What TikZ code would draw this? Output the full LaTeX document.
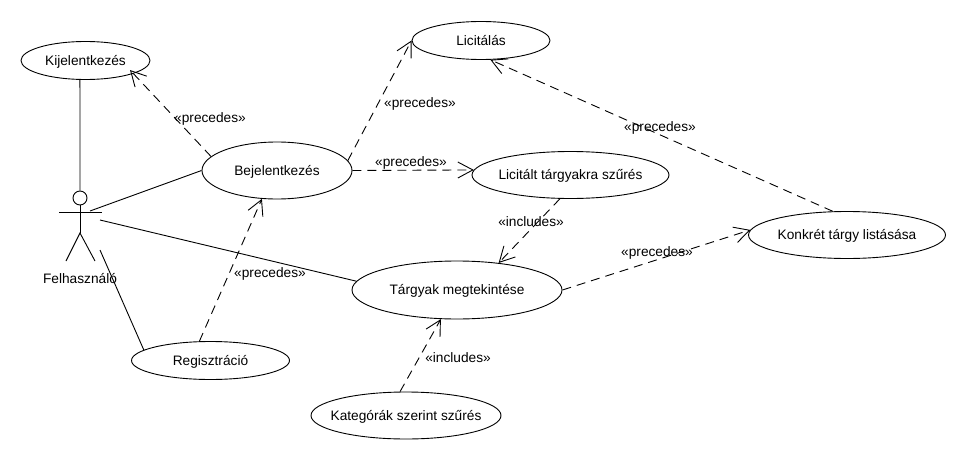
\documentclass[tikz,border=0pt]{standalone}
\usepackage{fontspec}
\setmainfont{Liberation Sans}
\usetikzlibrary{arrows.meta,shapes.geometric}
\tikzset{
	usecase/.style={draw,ellipse,inner ysep=0pt,inner xsep=-25pt,line width=0.9pt,text height=9.8pt,text depth=0pt},
	dep/.style={dashed,dash pattern=on 9pt off 6pt,line width=0.9pt,-{Straight Barb[length=15pt,width=16pt,line width=0.9pt]}},
	assoc/.style={line width=0.9pt},
	stereo/.style={inner sep=0pt,text height=9.8pt,text depth=0pt}
}
\begin{document}
\begin{tikzpicture}[x=1pt,y=-1pt]
\fontsize{13.7}{15}\selectfont
\useasboundingbox[fill=white] (0,0) rectangle (960,460);
\node[usecase,minimum width=129pt,minimum height=38pt] (kijel) at (85.5,60.5) {Kijelentkezés};
\node[usecase,minimum width=150pt,minimum height=57pt] (bejel) at (277,170.5) {Bejelentkezés};
\node[usecase,minimum width=158pt,minimum height=38pt] (regisz) at (210.5,360.5) {Regisztráció};
\node[usecase,minimum width=138pt,minimum height=38pt] (licit) at (481,40.5) {Licitálás};
\node[usecase,minimum width=197pt,minimum height=47pt] (szures) at (570.5,175) {Licitált tárgyakra szűrés};
\node[usecase,minimum width=197pt,minimum height=47pt] (konkret) at (847,235) {Konkrét tárgy listásása};
\node[usecase,minimum width=210pt,minimum height=58pt] (targyak) at (457,290) {Tárgyak megtekintése};
\node[usecase,minimum width=190pt,minimum height=47pt] (kateg) at (406,415.5) {Kategórák szerint szűrés};
% actor
\node[draw,circle,line width=0.9pt,minimum size=14pt,inner sep=0pt] (fejlec) at (80,198) {};
\coordinate (csipo) at (80,233);
\coordinate (bal) at (59,212);
\coordinate (jobb) at (102,212);
\draw[assoc] (fejlec) -- (csipo);
\draw[assoc] (bal) -- (jobb);
\coordinate (ballab) at (66,261);
\coordinate (jobblab) at (95,261);
\draw[assoc] (ballab) -- (csipo) -- (jobblab);
\node[stereo] (felh) at (80,279) {Felhasználó};
% associations
\coordinate (vegA) at (90,211);
\coordinate (vegB) at (100,220);
\coordinate (vegC) at (100,250);
\draw[assoc] (kijel.254) -- (fejlec);
\draw[assoc] (vegA) -- (bejel.west);
\draw[assoc] (vegB) -- (targyak.175);
\draw[assoc] (vegC) -- (regisz.171);
% dependencies
\coordinate (kijelhegy) at (130,70);
\draw[dep] (bejel.168) -- (kijelhegy);
\draw[dep] (bejel.8) -- (licit.west);
\draw[dep] (bejel.east) -- (szures.177);
\draw[dep] (szures.246) -- (targyak.33);
\draw[dep] (regisz.120) -- (bejel.242);
\draw[dep] (kateg.104) -- (targyak.241);
\draw[dep] (targyak.east) -- (konkret.177);
\draw[dep] (konkret.121) -- (licit.-64);
% labels
\node[stereo] (lblA) at (210,118) {«precedes»};
\node[stereo] (lblB) at (420,103) {«precedes»};
\node[stereo] (lblC) at (411,162) {«precedes»};
\node[stereo] (lblD) at (270,273) {«precedes»};
\node[stereo] (lblE) at (660,127) {«precedes»};
\node[stereo] (lblF) at (657,252) {«precedes»};
\node[stereo] (lblG) at (531,222) {«includes»};
\node[stereo] (lblH) at (458,358) {«includes»};
\end{tikzpicture}
\end{document}
